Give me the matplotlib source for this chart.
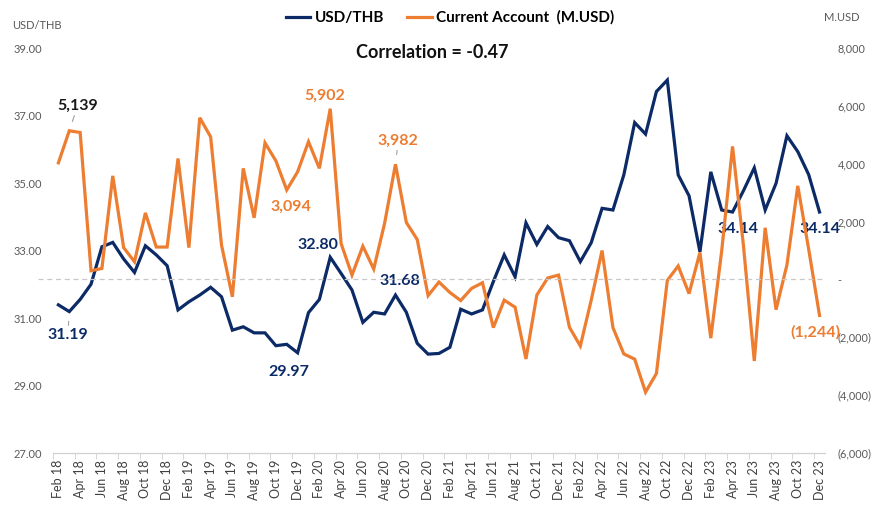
import matplotlib.pyplot as plt
from matplotlib.ticker import FuncFormatter

plt.rcParams['font.family'] = ['Lato', 'DejaVu Sans']

# monthly, Feb 2018 - Dec 2023
months = ['Jan', 'Feb', 'Mar', 'Apr', 'May', 'Jun', 'Jul', 'Aug', 'Sep', 'Oct', 'Nov', 'Dec']
labels = [f"{months[(m + 1) % 12]} {18 + (m + 1) // 12}" for m in range(71)]

usd_thb = [31.39, 31.19, 31.55, 32.00, 33.11, 33.24, 32.75, 32.35, 33.14, 32.87, 32.55, 31.24,
           31.48, 31.68, 31.91, 31.63, 30.64, 30.74, 30.56, 30.56, 30.18, 30.22, 29.97, 31.16,
           31.55, 32.80, 32.32, 31.83, 30.87, 31.17, 31.12, 31.68, 31.17, 30.25, 29.93, 29.95,
           30.13, 31.26, 31.12, 31.24, 32.08, 32.87, 32.22, 33.82, 33.18, 33.71, 33.38, 33.29,
           32.67, 33.23, 34.25, 34.20, 35.24, 36.79, 36.45, 37.71, 38.05, 35.24, 34.62, 32.96,
           35.33, 34.20, 34.14, 34.77, 35.45, 34.20, 34.99, 36.40, 35.93, 35.25, 34.14]

current_account = [4030, 5139, 5080, 300, 380, 3580, 1100, 610, 2300, 1120, 1120, 4180,
                   1100, 5590, 4930, 1190, -600, 3840, 2130, 4720, 4100, 3094, 3720, 4760,
                   3840, 5902, 1240, 150, 1150, 360, 1940, 3982, 1970, 1380, -560, -90,
                   -450, -730, -310, -115, -1665, -715, -960, -2750, -540, 50, 150, -1655,
                   -2300, -720, 1000, -1665, -2575, -2755, -3895, -3250, -35, 465, -490, 930,
                   -2030, 980, 4600, 1175, -2820, 1785, -1045, 500, 3235, 1050, -1244]

navy = '#0b2a66'
orange = '#ed7d31'
x = list(range(len(labels)))

fig = plt.figure(figsize=(8.74, 5.07), dpi=100)
ax = fig.add_axes([0.0606, 0.1065, 0.8833, 0.7988])
ax2 = ax.twinx()

ax.plot(x, usd_thb, color=navy, lw=2.3, solid_joinstyle='miter')
ax2.plot(x, current_account, color=orange, lw=2.3, solid_joinstyle='miter')

ax.set_xlim(-0.5, 70.5)
ax.set_ylim(27, 39)
ax.set_yticks([27, 29, 31, 33, 35, 37, 39])
ax.yaxis.set_major_formatter(FuncFormatter(lambda v, p: f"{v:.2f}"))
ax2.set_ylim(-6000, 8000)
ax2.set_yticks(range(-6000, 8001, 2000))


def ca_fmt(v, p):
    if v == 0:
        return '-'
    if v < 0:
        return f"({-v:,.0f})"
    return f"{v:,.0f}"


ax2.yaxis.set_major_formatter(FuncFormatter(ca_fmt))

ax.set_xticks(x[::2])
ax.set_xticklabels(labels[::2], rotation=90, fontsize=9, color='#404040')
ax.set_xticks([i - 0.5 for i in range(0, 72, 2)], minor=True)
ax.tick_params(axis='x', which='major', length=0, pad=5)
ax.tick_params(axis='x', which='minor', length=4, color='#d0d0d0')
ax.tick_params(axis='y', length=0, pad=8, labelsize=8, labelcolor='#595959')
ax2.tick_params(axis='y', length=0, pad=9, labelsize=7.8, labelcolor='#595959')

for a in (ax, ax2):
    for s in ['top', 'left', 'right']:
        a.spines[s].set_visible(False)
    a.spines['bottom'].set_color('#d0d0d0')

# zero line of current account
ax2.plot([-0.02, 1.0], [0, 0], transform=ax2.get_yaxis_transform(), clip_on=False,
         color='#c8c8c8', lw=0.9, ls=(0, (4, 3)))

# data labels
lbl = dict(textcoords='offset points', ha='center', va='center', fontsize=11.5, fontweight='bold')
lead = dict(arrowstyle='-', color='#a0a0a0', lw=0.8, shrinkA=0, shrinkB=7)
ax2.annotate(f"{current_account[1]:,}", (1, current_account[1]), xytext=(6, 18), color='#1a1a1a',
             arrowprops=lead, **lbl)
ax2.annotate(f"{current_account[25]:,}", (25, current_account[25]), xytext=(-4, 9), color=orange, **lbl)
ax2.annotate(f"{current_account[21]:,}", (21, current_account[21]), xytext=(3, -12), color=orange, **lbl)
ax2.annotate(f"{current_account[31]:,}", (31, current_account[31]), xytext=(2, 17), color=orange,
             arrowprops=lead, **lbl)
ax2.annotate(ca_fmt(current_account[70], None), (70, current_account[70]), xytext=(-3, -12),
             color=orange, **lbl)

ax.annotate(f"{usd_thb[1]:.2f}", (1, usd_thb[1]), xytext=(-1, -17), color=navy, arrowprops=lead, **lbl)
ax.annotate(f"{usd_thb[22]:.2f}", (22, usd_thb[22]), xytext=(-6, -14), color=navy, **lbl)
ax.annotate(f"{usd_thb[25]:.2f}", (25, usd_thb[25]), xytext=(-9, 9), color=navy, **lbl)
ax.annotate(f"{usd_thb[31]:.2f}", (31, usd_thb[31]), xytext=(3, 10), color=navy, **lbl)
ax.annotate(f"{usd_thb[62]:.2f}", (62, usd_thb[62]), xytext=(4, -12), color=navy, **lbl)
ax.annotate(f"{usd_thb[70]:.2f}", (70, usd_thb[70]), xytext=(0, -12), color=navy, **lbl)

# titles and legend
fig.text(0.495, 0.897, 'Correlation = -0.47', ha='center', va='center', fontsize=13, fontweight='bold',
         color='#111111')
fig.text(0.014, 0.95, 'USD/THB', ha='left', va='center', fontsize=8, color='#595959')
fig.text(0.943, 0.965, 'M.USD', ha='left', va='center', fontsize=8, color='#595959')

h1 = plt.Line2D([], [], color=navy, lw=2.3)
h2 = plt.Line2D([], [], color=orange, lw=2.3)
fig.legend([h1, h2], ['USD/THB', 'Current Account  (M.USD)'], loc='center', ncol=2,
           bbox_to_anchor=(0.515, 0.965), frameon=False, handlelength=1.6, handletextpad=0.3,
           columnspacing=1.5, prop={'size': 11, 'weight': 'bold'})

plt.savefig('out.png', dpi=100)
